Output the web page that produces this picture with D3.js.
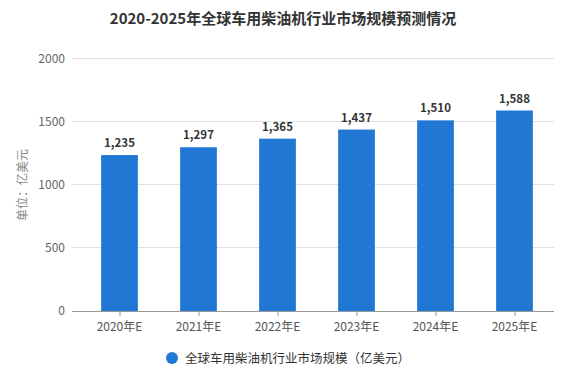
<!DOCTYPE html>
<html><head><meta charset="utf-8">
<script src="https://cdn.jsdelivr.net/npm/d3@7"></script>
<style>body{margin:0;background:#fff}svg{display:block}</style>
</head><body>
<svg id="c" width="567" height="375"></svg>
<script>
const categories = ["2020年E","2021年E","2022年E","2023年E","2024年E","2025年E"];
const values = [1235,1297,1365,1437,1510,1588];
const yTicks = [0,500,1000,1500,2000];
const title = "2020-2025年全球车用柴油机行业市场规模预测情况";
const seriesName = "全球车用柴油机行业市场规模（亿美元）";
const yUnit = "单位：亿美元";

const font = "'Microsoft YaHei','Noto Sans CJK SC',sans-serif";
const svg = d3.select("#c");
const x = d3.scaleBand().domain(categories).range([80, 554]).paddingInner(0.535).paddingOuter(0.2675);
const y = d3.scaleLinear().domain([0,2000]).range([311, 58.5]);
const color = "#2178d4";

// grid
svg.append("g").selectAll("line").data(yTicks.filter(d=>d>0)).join("line")
  .attr("x1",72).attr("x2",554).attr("y1",d=>y(d)).attr("y2",d=>y(d))
  .attr("stroke","#e0e0e0").attr("stroke-width",1).attr("shape-rendering","crispEdges");

// y axis labels
const ya = svg.append("g").attr("transform","translate(72,0)")
  .call(d3.axisLeft(y).tickValues(yTicks).tickSize(0).tickPadding(7).tickFormat(d3.format("d")));
ya.select(".domain").remove();
ya.selectAll("text").attr("font-family",font).attr("font-size",12).attr("fill","#666");

// bars
svg.append("g").selectAll("rect").data(values).join("rect")
  .attr("x",(d,i)=>x(categories[i])).attr("width",x.bandwidth())
  .attr("y",d=>y(d)).attr("height",d=>y(0)-y(d)).attr("fill",color);

// value labels
svg.append("g").selectAll("text").data(values).join("text")
  .attr("x",(d,i)=>x(categories[i])+x.bandwidth()/2).attr("y",d=>y(d)-8)
  .attr("text-anchor","middle").attr("font-family",font).attr("font-size",11.5)
  .attr("font-weight","bold").attr("fill","#333").text(d3.format(","));

// x axis
svg.append("line").attr("x1",72).attr("x2",554).attr("y1",y(0)+0.5).attr("y2",y(0)+0.5)
  .attr("stroke","#999").attr("stroke-width",1);
svg.append("g").selectAll("line").data(categories).join("line")
  .attr("x1",d=>x(d)+x.bandwidth()/2+0.5).attr("x2",d=>x(d)+x.bandwidth()/2+0.5)
  .attr("y1",y(0)).attr("y2",y(0)+5).attr("stroke","#999");
svg.append("g").selectAll("text").data(categories).join("text")
  .attr("x",d=>x(d)+x.bandwidth()/2).attr("y",y(0)+20)
  .attr("text-anchor","middle").attr("font-family",font).attr("font-size",12)
  .attr("fill","#555").text(d=>d);

// y unit
svg.append("text").attr("transform","translate(27,185) rotate(-90)")
  .attr("text-anchor","middle").attr("font-family",font).attr("font-size",12)
  .attr("fill","#888").text(yUnit);

// title
svg.append("text").attr("x",283).attr("y",24).attr("text-anchor","middle")
  .attr("font-family",font).attr("font-size",15).attr("font-weight","bold")
  .attr("fill","#333").text(title);

// legend
svg.append("circle").attr("cx",172).attr("cy",358).attr("r",6).attr("fill",color);
svg.append("text").attr("x",185).attr("y",362.5).attr("font-family",font)
  .attr("font-size",12.5).attr("fill","#333").text(seriesName);
</script>
</body></html>
